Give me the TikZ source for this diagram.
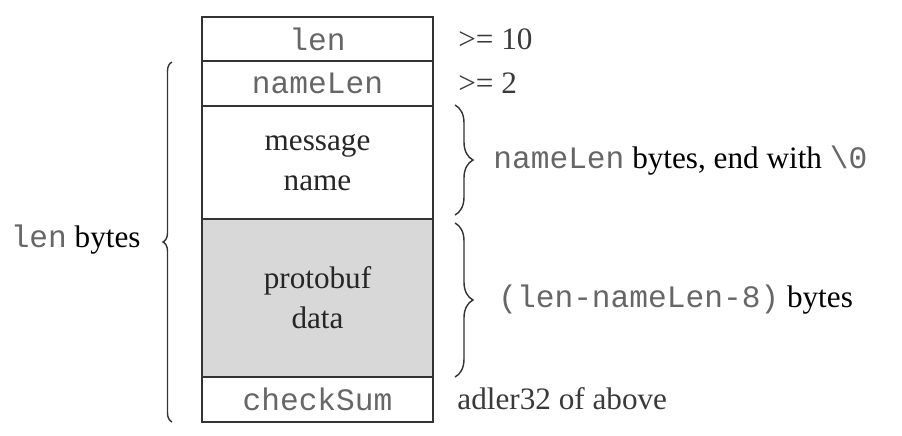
\documentclass[tikz,border=0pt]{standalone}
\usepackage{fontspec}
\setmainfont{Liberation Serif}
\setmonofont{Liberation Mono}
\usetikzlibrary{decorations.pathreplacing}
\definecolor{monogray}{HTML}{666666}
\definecolor{labgray}{HTML}{3A3A3A}
\definecolor{protofill}{HTML}{D8D8D8}
\begin{document}
\begin{tikzpicture}[x=0.5pt,y=-0.5pt,
  every node/.style={font=\fontsize{15.6}{20}\selectfont},
  row/.style={draw=black!80, line width=0.7pt, minimum width=115.5pt, inner sep=0pt, align=center, text=black!85},
  mono/.style={text=monogray, font=\fontsize{15.6}{20}\selectfont\ttfamily},
  lab/.style={anchor=west, inner sep=0pt, text=labgray},
  bracestyle/.style={draw=black!80, line width=0.7pt, decorate, decoration={brace, amplitude=9pt}},
  lbrace/.style={draw=black!80, line width=0.7pt, decorate, decoration={brace, amplitude=4.5pt}}]
\path[fill=white] (0,0) rectangle (902,435);
\useasboundingbox (0,0) rectangle (902,435);
% rows
\node[row, minimum height=22pt, mono] (len) at (317.5,39) {len};
\node[row, minimum height=22.5pt, mono] (namelen) at (317.5,83.5) {nameLen};
\node[row, minimum height=56.5pt] (msg) at (317.5,162.5) {message\\name};
\node[row, minimum height=79pt, fill=protofill] (proto) at (317.5,298) {protobuf\\data};
\node[row, minimum height=22.5pt, mono] (cks) at (317.5,399.5) {checkSum};
% labels
\node[lab] (l1) at (458,39) {>= 10};
\node[lab] (l2) at (458,83) {>= 2};
\node[lab, text=black] (l3) at (493,161) {\textcolor{monogray}{\texttt{nameLen}} bytes, end with \textcolor{monogray}{\texttt{\textbackslash 0}}};
\node[lab, text=black] (l4) at (498,300) {\textcolor{monogray}{\texttt{(len-nameLen-8)}} bytes};
\node[lab] (l5) at (457,399) {adler32 of above};
\node[anchor=east, inner sep=0pt, text=black] (l6) at (141,240) {\textcolor{monogray}{\texttt{len}} bytes};
% brace coordinates
\coordinate (b1t) at (455,105);
\coordinate (b1b) at (455,215);
\coordinate (b2t) at (455,223);
\coordinate (b2b) at (455,377);
\coordinate (lbt) at (172,62);
\coordinate (lbb) at (172,422);
\draw[bracestyle] (b1t) -- (b1b);
\draw[bracestyle] (b2t) -- (b2b);
\draw[lbrace] (lbb) -- (lbt);
\end{tikzpicture}
\end{document}
